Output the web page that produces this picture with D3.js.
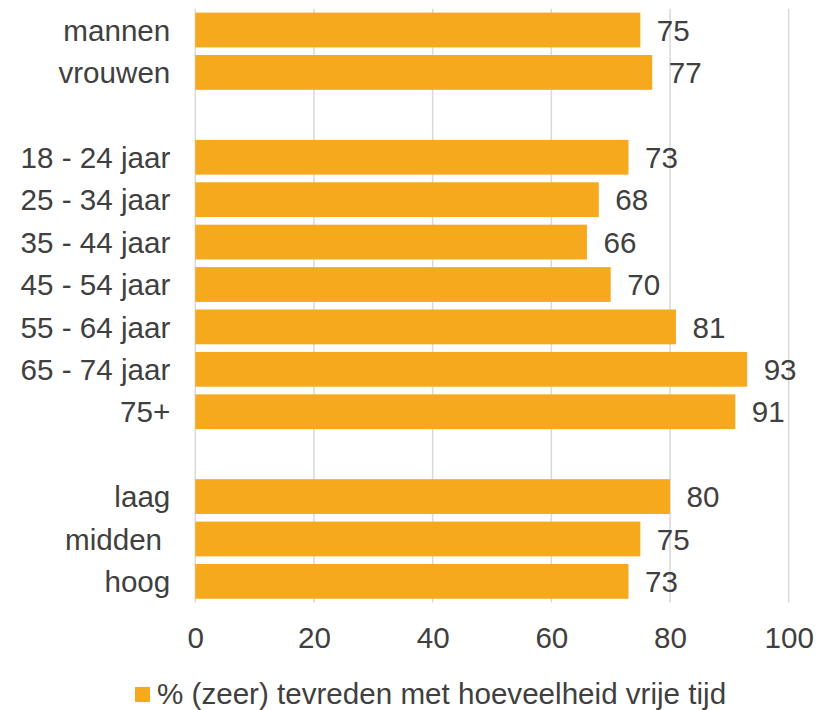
<!DOCTYPE html>
<html>
<head>
<meta charset="utf-8">
<script src="https://cdn.jsdelivr.net/npm/d3@7"></script>
<style>
  html, body { margin: 0; padding: 0; background: #fff; }
  svg { display: block; font-family: "Liberation Sans", Arial, sans-serif; }
</style>
</head>
<body>
<svg id="chart" width="817" height="710"></svg>
<script>
// Groups as drawn top to bottom; blank entries act as spacer rows between blocks
const categories = ["mannen", "vrouwen", "", "18 - 24 jaar", "25 - 34 jaar", "35 - 44 jaar",
  "45 - 54 jaar", "55 - 64 jaar", "65 - 74 jaar", "75+", " ", "laag", "midden\u00a0", "hoog"];
const values = [75, 77, null, 73, 68, 66, 70, 81, 93, 91, null, 80, 75, 73];
const tickValues = [0, 20, 40, 60, 80, 100];
const seriesName = "% (zeer) tevreden met hoeveelheid vrije tijd";

const barColor = "#F6A91C";
const textColor = "#404040";
const gridColor = "#D9D9D9";
const fontSize = 29.6;

const svg = d3.select("#chart");
const plot = { left: 195.3, right: 788.7, top: 8.8, bottom: 602.6 };

const x = d3.scaleLinear().domain([0, 100]).range([plot.left, plot.right]);
const y = d3.scaleBand().domain(categories).range([plot.top, plot.bottom])
  .paddingInner(0.18).paddingOuter(0.09);

const rows = categories.map((c, i) => ({ cat: c, value: values[i] }));
const filled = rows.filter(d => d.value !== null);

// vertical gridlines
svg.append("g")
  .selectAll("line")
  .data(tickValues)
  .join("line")
  .attr("x1", d => x(d)).attr("x2", d => x(d))
  .attr("y1", plot.top).attr("y2", plot.bottom)
  .attr("stroke", gridColor)
  .attr("stroke-width", 1.5);

// bars
svg.append("g")
  .selectAll("rect")
  .data(filled)
  .join("rect")
  .attr("x", x(0))
  .attr("y", d => y(d.cat))
  .attr("width", d => x(d.value) - x(0))
  .attr("height", y.bandwidth())
  .attr("fill", barColor);

// value labels
svg.append("g")
  .selectAll("text")
  .data(filled)
  .join("text")
  .attr("x", d => x(d.value) + 16.5)
  .attr("y", d => y(d.cat) + y.bandwidth() / 2)
  .attr("dy", "0.36em")
  .attr("fill", textColor)
  .attr("font-size", fontSize)
  .text(d => d.value);

// category axis
const yAxis = svg.append("g")
  .attr("transform", `translate(${plot.left},0)`)
  .call(d3.axisLeft(y).tickSize(0).tickPadding(25));
yAxis.select(".domain").remove();
yAxis.selectAll("text")
  .attr("fill", textColor)
  .attr("font-size", fontSize)
  .attr("font-family", "Liberation Sans, Arial, sans-serif")
  .style("white-space", "pre")
  .attr("dy", "0.36em");

// value axis
const xAxis = svg.append("g")
  .attr("transform", `translate(0,${plot.bottom})`)
  .call(d3.axisBottom(x).tickValues(tickValues).tickSize(0).tickPadding(24));
xAxis.select(".domain").remove();
xAxis.selectAll("text")
  .attr("fill", textColor)
  .attr("font-size", fontSize)
  .attr("font-family", "Liberation Sans, Arial, sans-serif");

// legend
const legend = svg.append("g").attr("transform", "translate(135,687)");
legend.append("rect")
  .attr("width", 15).attr("height", 15)
  .attr("fill", barColor);
legend.append("text")
  .attr("x", 22).attr("y", 17)
  .attr("fill", textColor)
  .attr("font-size", fontSize)
  .text(seriesName);
</script>
</body>
</html>
